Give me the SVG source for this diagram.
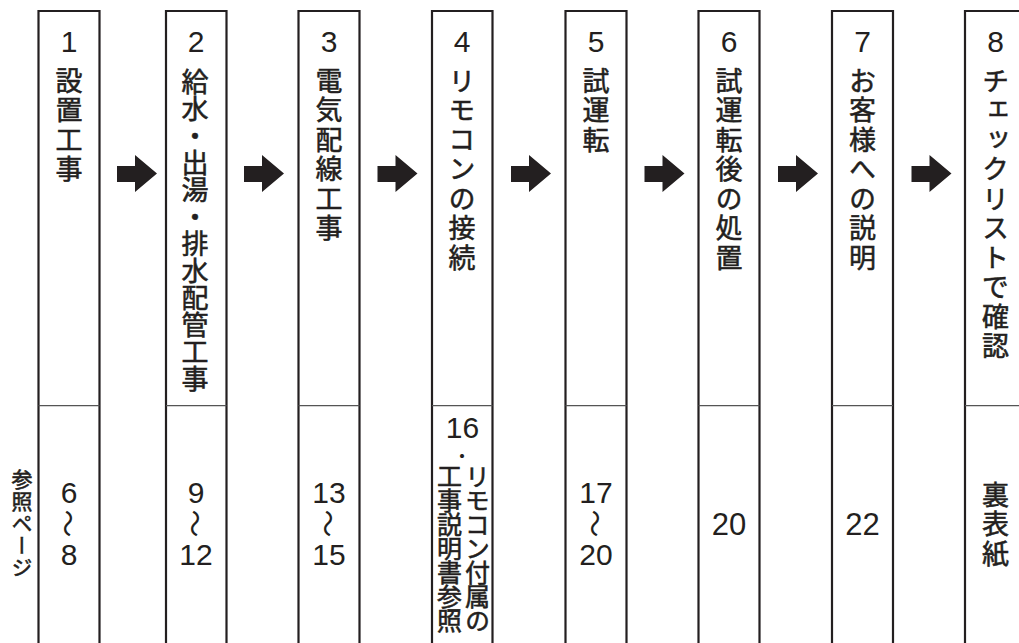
<svg xmlns="http://www.w3.org/2000/svg" width="1019" height="643" viewBox="0 0 1019 643">
<style>
.col{fill:#fff;stroke:#231f20;stroke-width:2.2}
.div{stroke:#555;stroke-width:1.2}
.num{font-family:"Liberation Sans",Arial,sans-serif;font-size:30px;fill:#231f20;text-anchor:middle}
.v{font-family:"Noto Sans CJK JP",sans-serif;font-size:27px;fill:#231f20;stroke:#231f20;stroke-width:0.55px;writing-mode:vertical-rl;letter-spacing:2.5px}
.wave{font-family:"Noto Sans CJK JP",sans-serif;font-size:28px;fill:#231f20;text-anchor:middle;dominant-baseline:central}
.arr{fill:#231f20}
</style>
<defs>
<path id="arrow" d="M0 166H18V155L40 173.5L18 192V182H0Z"/>
</defs>
<rect width="1019" height="643" fill="#fff"/>
<g id="label-ref">
<text class="v" x="22" y="469" style="font-size:21px;letter-spacing:1px">参照ページ</text>
</g>
<g id="step1">
<path class="col" d="M38.5 645V11H99.5V645"/>
<line class="div" x1="38.5" y1="405.7" x2="99.5" y2="405.7"/>
<text class="num" x="69" y="52">1</text>
<text class="v" x="69" y="67">設置工事</text>
<text class="num" x="69" y="503">6</text>
<text class="wave" x="69" y="523.5" transform="rotate(90 69 523.5)">〜</text>
<text class="num" x="69" y="565">8</text>
</g>
<g id="step2">
<path class="col" d="M166 645V11H226.5V645"/>
<line class="div" x1="166" y1="405.7" x2="226.5" y2="405.7"/>
<text class="num" x="196" y="52">2</text>
<text class="v" x="195" y="68" style="letter-spacing:0">給水・出湯・排水配管工事</text>
<text class="num" x="196" y="503">9</text>
<text class="wave" x="196" y="523.5" transform="rotate(90 196 523.5)">〜</text>
<text class="num" x="196" y="565">12</text>
</g>
<g id="step3">
<path class="col" d="M298.5 645V11H359.5V645"/>
<line class="div" x1="298.5" y1="405.7" x2="359.5" y2="405.7"/>
<text class="num" x="329" y="52">3</text>
<text class="v" x="329" y="67">電気配線工事</text>
<text class="num" x="329" y="503">13</text>
<text class="wave" x="329" y="523.5" transform="rotate(90 329 523.5)">〜</text>
<text class="num" x="329" y="565">15</text>
</g>
<g id="step4">
<path class="col" d="M432 645V11H492.5V645"/>
<line class="div" x1="432" y1="405.7" x2="492.5" y2="405.7"/>
<text class="num" x="462" y="52">4</text>
<text class="v" x="462" y="67">リモコンの接続</text>
<text class="num" x="462.5" y="438">16</text>
<text class="wave" x="462" y="455" style="font-size:16px;font-weight:700">・</text>
<text class="v" x="477.5" y="464" style="font-size:25px;letter-spacing:-1px">リモコン付属の</text>
<text class="v" x="449.5" y="464" style="font-size:25px;letter-spacing:-1px">工事説明書参照</text>
</g>
<g id="step5">
<path class="col" d="M565.5 645V11H626.5V645"/>
<line class="div" x1="565.5" y1="405.7" x2="626.5" y2="405.7"/>
<text class="num" x="596" y="52">5</text>
<text class="v" x="596" y="67">試運転</text>
<text class="num" x="596" y="503">17</text>
<text class="wave" x="596" y="523.5" transform="rotate(90 596 523.5)">〜</text>
<text class="num" x="596" y="565">20</text>
</g>
<g id="step6">
<path class="col" d="M698.5 645V11H759.5V645"/>
<line class="div" x1="698.5" y1="405.7" x2="759.5" y2="405.7"/>
<text class="num" x="729" y="52">6</text>
<text class="v" x="729" y="67">試運転後の処置</text>
<text class="num" x="729" y="535" style="font-size:31px">20</text>
</g>
<g id="step7">
<path class="col" d="M832 645V11H893V645"/>
<line class="div" x1="832" y1="405.7" x2="893" y2="405.7"/>
<text class="num" x="862.5" y="52">7</text>
<text class="v" x="862.5" y="67">お客様への説明</text>
<text class="num" x="862.5" y="535" style="font-size:31px">22</text>
</g>
<g id="step8">
<path class="col" d="M965 645V11H1026V645"/>
<line class="div" x1="965" y1="405.7" x2="1026" y2="405.7"/>
<text class="num" x="995.5" y="52">8</text>
<text class="v" x="995.5" y="67">チェックリストで確認</text>
<text class="v" x="995.5" y="481">裏表紙</text>
</g>
<g id="connectors">
<use href="#arrow" class="arr" x="117"/>
<use href="#arrow" class="arr" x="244"/>
<use href="#arrow" class="arr" x="377.5"/>
<use href="#arrow" class="arr" x="511"/>
<use href="#arrow" class="arr" x="644.5"/>
<use href="#arrow" class="arr" x="778"/>
<use href="#arrow" class="arr" x="911.5"/>
</g>
</svg>
